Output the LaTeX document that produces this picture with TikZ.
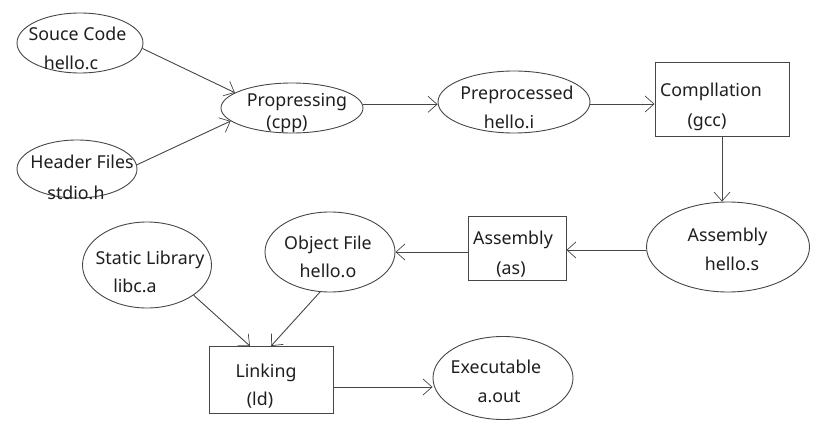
\documentclass[tikz,border=0pt]{standalone}
\usepackage{fontspec}
\setmainfont{Noto Sans}
\usetikzlibrary{shapes.geometric,arrows.meta}
\definecolor{ln}{RGB}{70,70,70}
\definecolor{tx}{RGB}{30,30,30}
\tikzset{
  ell/.style={draw=ln,line width=0.9pt,ellipse,inner sep=0pt},
  box/.style={draw=ln,line width=0.9pt,rectangle,inner sep=0pt},
  txt/.style={text=tx,inner sep=0pt,text height=12.5pt,text depth=0pt,font=\fontsize{17.8}{20}\selectfont},
  arr/.style={draw=ln,line width=0.9pt,-{Straight Barb[length=9pt,width=16pt,line width=0.7pt]}}
}
\begin{document}
\begin{tikzpicture}[x=1pt,y=-1pt]
\useasboundingbox (0,0) rectangle (820,433);
% shapes
\node[ell,minimum width=126pt,minimum height=60pt] (src) at (80,43) {};
\node[ell,minimum width=120pt,minimum height=58pt] (hdr) at (77,169) {};
\node[ell,minimum width=142pt,minimum height=50pt] (cpp) at (292,108) {};
\node[ell,minimum width=152pt,minimum height=62pt] (pre) at (514,102) {};
\node[box,minimum width=134pt,minimum height=74pt] (comp) at (722,99) {};
\node[ell,minimum width=163pt,minimum height=90pt] (asms) at (728,247) {};
\node[box,minimum width=98pt,minimum height=64pt] (as) at (517,248) {};
\node[ell,minimum width=130pt,minimum height=80pt] (obj) at (330,252) {};
\node[ell,minimum width=129pt,minimum height=86pt] (lib) at (147,265) {};
\node[box,minimum width=124pt,minimum height=67pt] (ld) at (271,380) {};
\node[ell,minimum width=140pt,minimum height=83pt] (exe) at (503,378) {};
% texts
\node[txt] (t1a) at (77.5,34) {Souce Code};
\node[txt] (t1b) at (71,63) {hello.c};
\node[txt] (t2a) at (82,162) {Header Files};
\node[txt] (t2b) at (76,193) {stdio.h};
\node[txt] (t3a) at (297,100) {Propressing};
\node[txt] (t3b) at (287,122) {(cpp)};
\node[txt] (t4a) at (517,93) {Preprocessed};
\node[txt] (t4b) at (509,122) {hello.i};
\node[txt] (t5a) at (711,90) {Compllation};
\node[txt] (t5b) at (707,120) {(gcc)};
\node[txt] (t6a) at (727.5,235) {Assembly};
\node[txt] (t6b) at (732,264) {hello.s};
\node[txt] (t7a) at (513,238) {Assembly};
\node[txt] (t7b) at (511,268) {(as)};
\node[txt] (t8a) at (328,243) {Object File};
\node[txt] (t8b) at (328,271) {hello.o};
\node[txt] (t9a) at (150,258) {Static Library};
\node[txt] (t9b) at (135,286) {libc.a};
\node[txt] (t10a) at (266,371) {Linking};
\node[txt] (t10b) at (260,399) {(ld)};
\node[txt] (t11a) at (496,367) {Executable};
\node[txt] (t11b) at (499,396) {a.out};
% connectors
\draw[arr] (src.-5) -- (cpp.165);
\draw[arr] (hdr.4) -- (cpp.192);
\draw[arr] (cpp.3) -- (cpp.3 -| pre.west);
\draw[arr] ([yshift=-2pt]pre.east) -- ([yshift=-2pt]pre.east -| comp.west);
\draw[arr] (comp.south) -- (comp.south |- asms.north);
\draw[arr] ([yshift=-3pt]asms.west) -- ([yshift=-3pt]asms.west -| as.east);
\draw[arr] (as.west |- obj.east) -- (obj.east);
\draw[arr] (lib.-33) -- ([xshift=-21pt]ld.north);
\draw[arr] (obj.256) -- (ld.north);
\draw[arr] ([yshift=-7pt]ld.east) -- ([yshift=-7pt]ld.east -| exe.west);
\end{tikzpicture}
\end{document}
